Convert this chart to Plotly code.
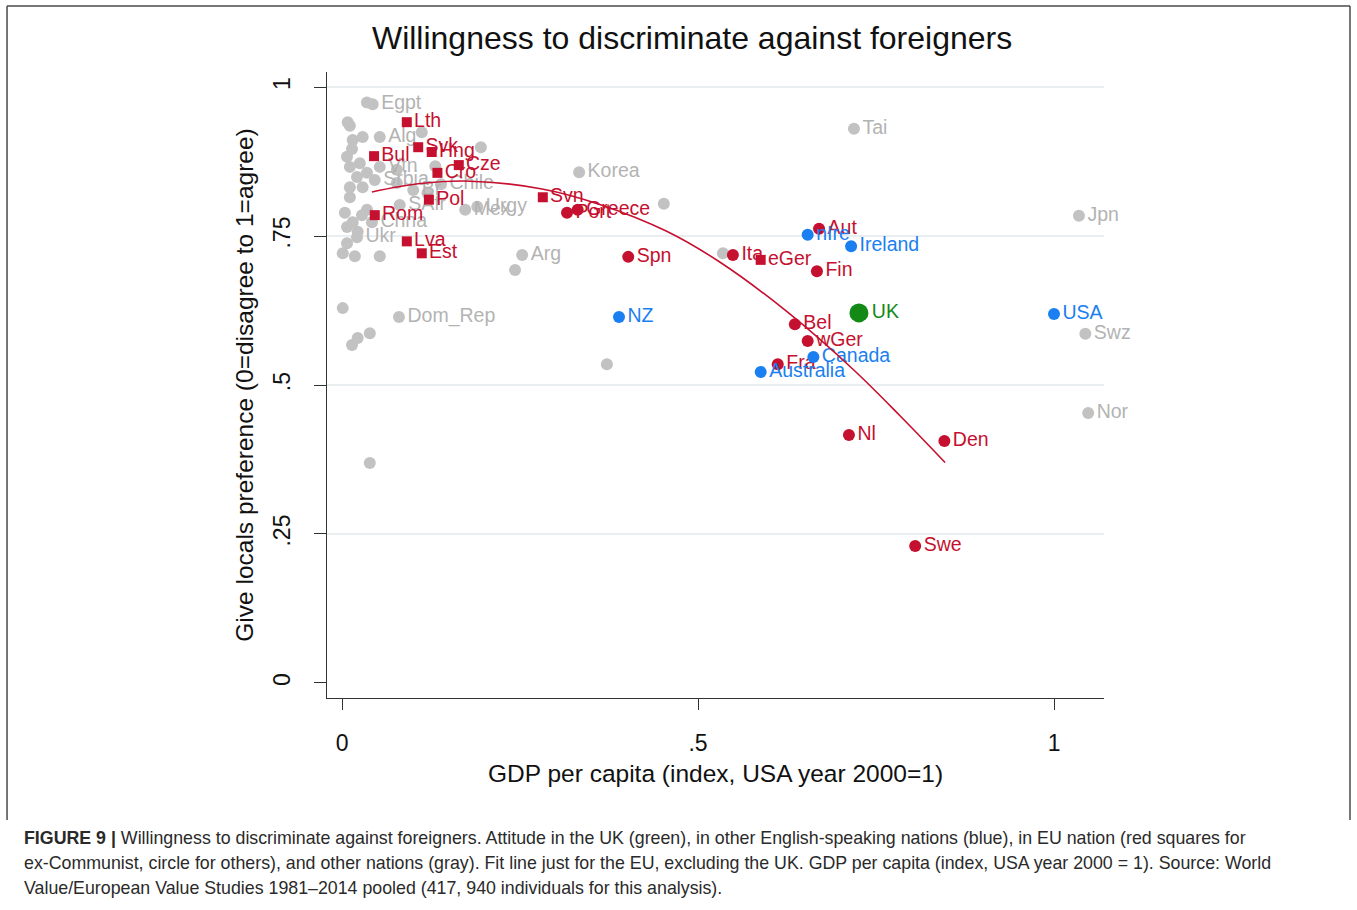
import plotly.graph_objects as go

# --- EU, ex-Communist members (squares) ---
eu_east_names = ["Lth", "Svk", "Hng", "Bul", "Cze", "Cro", "Pol", "Rom", "Lva", "Est", "Svn", "eGer"]
eu_east_gdp = [0.091, 0.107, 0.126, 0.045, 0.164, 0.134, 0.122, 0.046, 0.091, 0.112, 0.282, 0.588]
eu_east_pref = [0.941, 0.899, 0.891, 0.884, 0.869, 0.856, 0.811, 0.785, 0.741, 0.721, 0.815, 0.710]

# --- EU, other members (circles) ---
eu_west_names = ["Port", "Greece", "Spn", "Ita", "Aut", "Fin", "Bel", "wGer", "Fra", "Nl", "Den", "Swe"]
eu_west_gdp = [0.316, 0.331, 0.402, 0.549, 0.670, 0.667, 0.636, 0.654, 0.612, 0.712, 0.846, 0.805]
eu_west_pref = [0.789, 0.794, 0.715, 0.718, 0.762, 0.691, 0.602, 0.574, 0.535, 0.416, 0.406, 0.230]

# --- Other English-speaking nations ---
anglo_names = ["nIre", "Ireland", "Canada", "Australia", "NZ", "USA"]
anglo_gdp = [0.654, 0.715, 0.662, 0.588, 0.389, 1.000]
anglo_pref = [0.752, 0.733, 0.547, 0.522, 0.614, 0.619]

# --- United Kingdom ---
uk_names = ["UK"]
uk_gdp = [0.726]
uk_pref = [0.621]

# --- Other nations (gray), labelled ---
other_names = ["Egpt", "Alg", "Korea", "Tai", "Jpn", "Swz", "Nor", "Arg", "Dom_Rep", "SAfr",
               "Mex", "Urgy", "Chile", "Br", "Ukr", "Chna", "Vtn", "Srbia"]
other_gdp = [0.043, 0.053, 0.333, 0.719, 1.035, 1.044, 1.048, 0.253, 0.080, 0.081,
             0.173, 0.190, 0.139, 0.100, 0.021, 0.042, 0.053, 0.046]
other_pref = [0.971, 0.916, 0.857, 0.930, 0.784, 0.586, 0.453, 0.718, 0.614, 0.802,
              0.794, 0.799, 0.837, 0.827, 0.748, 0.773, 0.866, 0.844]

# --- Other nations (gray), unlabelled ---
rest_gdp = [0.035, 0.008, 0.011, 0.015, 0.029, 0.007, 0.011, 0.025, 0.021, 0.035,
            0.077, 0.011, 0.029, 0.077, 0.011, 0.035, 0.015, 0.007, 0.007, 0.001,
            0.018, 0.053, 0.001, 0.039, 0.022, 0.014, 0.039, 0.243, 0.372, 0.452,
            0.195, 0.131, 0.112, 0.535, 0.028, 0.004, 0.014, 0.022, 0.120]
rest_pref = [0.974, 0.941, 0.935, 0.911, 0.916, 0.883, 0.866, 0.872, 0.849, 0.856,
             0.861, 0.832, 0.832, 0.839, 0.815, 0.794, 0.773, 0.765, 0.738, 0.721,
             0.716, 0.716, 0.629, 0.587, 0.579, 0.567, 0.369, 0.693, 0.535, 0.804,
             0.899, 0.867, 0.924, 0.721, 0.785, 0.789, 0.896, 0.757, 0.822]

# --- Quadratic fit for EU members (excluding the UK) ---
fit_gdp = [0.042, 0.110, 0.180, 0.281, 0.362, 0.456, 0.531, 0.625, 0.718, 0.784, 0.847]
fit_pref = [0.824, 0.838, 0.842, 0.829, 0.803, 0.758, 0.706, 0.623, 0.526, 0.448, 0.370]

# Axis ticks and reference lines
x_ticks = [0, 0.5, 1]
x_tick_text = ["0", ".5", "1"]
y_ticks = [0, 0.25, 0.5, 0.75, 1]
y_tick_text = ["0", ".25", ".5", ".75", "1"]
grid_levels = [0.25, 0.5, 0.75, 1]

RED = "#c5102f"
BLUE = "#1a7ff0"
GREEN = "#138a16"
GRAY = "#c2c2c2"
GRAY_TXT = "#b3b3b3"
FONT = "Liberation Sans, Arial, sans-serif"
LABEL_SIZE = 19.5

fig = go.Figure()


def labelled(x, y, names, color, txt_color, size, symbol):
    return go.Scatter(
        x=x, y=y, mode="markers+text", text=names, textposition="middle right",
        textfont=dict(color=txt_color, size=LABEL_SIZE, family=FONT),
        marker=dict(color=color, size=size, symbol=symbol),
        cliponaxis=False)


fig.add_trace(go.Scatter(
    x=rest_gdp, y=rest_pref, mode="markers",
    marker=dict(color=GRAY, size=12, symbol="circle"),
    cliponaxis=False, hoverinfo="skip"))
fig.add_trace(labelled(other_gdp, other_pref, other_names, GRAY, GRAY_TXT, 12, "circle"))
fig.add_trace(labelled(eu_east_gdp, eu_east_pref, eu_east_names, RED, RED, 10, "square"))
fig.add_trace(labelled(eu_west_gdp, eu_west_pref, eu_west_names, RED, RED, 12, "circle"))
fig.add_trace(labelled(anglo_gdp, anglo_pref, anglo_names, BLUE, BLUE, 12, "circle"))
fig.add_trace(labelled(uk_gdp, uk_pref, uk_names, GREEN, GREEN, 19, "circle"))

fig.add_trace(go.Scatter(
    x=fit_gdp, y=fit_pref, mode="lines", line_shape="spline",
    line=dict(color=RED, width=1.6), hoverinfo="skip"))

# Horizontal reference lines (no line at zero)
for lvl in grid_levels:
    fig.add_shape(type="line", xref="paper", yref="y", x0=0, x1=1, y0=lvl, y1=lvl,
                  line=dict(color="#e2eaec", width=1.5), layer="below")

# Outer frame of the figure panel
frame = dict(color="#4a4a4a", width=1.5)
fig.add_shape(type="line", xref="paper", yref="paper", x0=-0.4118, x1=1.3166, y0=1.1054, y1=1.1054, line=frame)
fig.add_shape(type="line", xref="paper", yref="paper", x0=-0.4118, x1=-0.4118, y0=1.1054, y1=-0.195, line=frame)
fig.add_shape(type="line", xref="paper", yref="paper", x0=1.3166, x1=1.3166, y0=1.1054, y1=-0.195, line=frame)

# Caption
caption_lines = [
    "<b>FIGURE 9 |</b> Willingness to discriminate against foreigners. Attitude in the UK (green), in other English-speaking nations (blue), in EU nation (red squares for",
    "ex-Communist, circle for others), and other nations (gray). Fit line just for the EU, excluding the UK. GDP per capita (index, USA year 2000 = 1). Source: World",
    "Value/European Value Studies 1981–2014 pooled (417, 940 individuals for this analysis).",
]
caption_y = [-0.2236, -0.2636, -0.3035]
for line, yy in zip(caption_lines, caption_y):
    fig.add_annotation(text=line, xref="paper", yref="paper", x=-0.3925, y=yy,
                       xanchor="left", yanchor="middle", showarrow=False,
                       font=dict(family=FONT, size=17.8, color="#2a2a2a"))

fig.update_layout(
    width=1357, height=910, autosize=False,
    margin=dict(l=327, r=253, t=72, b=212),
    paper_bgcolor="white", plot_bgcolor="white",
    showlegend=False,
    font=dict(family=FONT, color="#111"),
    title=dict(text="Willingness to discriminate against foreigners",
               x=0.51, xanchor="center", xref="container",
               y=1 - 38 / 910, yanchor="middle", yref="container",
               font=dict(family=FONT, size=32, color="#111")),
    xaxis=dict(range=[-0.0211, 1.0702], tickvals=x_ticks, ticktext=x_tick_text,
               showgrid=False, zeroline=False, showline=True, linecolor="#333", linewidth=1.3,
               ticks="outside", ticklen=11, tickcolor="#333", tickwidth=1.3,
               ticklabelstandoff=13, tickfont=dict(size=23, family=FONT, color="#111"),
               title=dict(text="GDP per capita (index, USA year 2000=1)", standoff=10,
                          font=dict(size=24.5, family=FONT, color="#111"))),
    yaxis=dict(range=[-0.0252, 1.0252], tickvals=y_ticks, ticktext=y_tick_text,
               showgrid=False, zeroline=False, showline=True, linecolor="#333", linewidth=1.3,
               ticks="outside", ticklen=12, tickcolor="#333", tickwidth=1.3,
               tickangle=-90, ticklabelstandoff=15,
               tickfont=dict(size=23, family=FONT, color="#111"),
               title=dict(text="Give locals preference (0=disagree to 1=agree)", standoff=8,
                          font=dict(size=24.5, family=FONT, color="#111"))),
)

fig.write_html("out.html")
